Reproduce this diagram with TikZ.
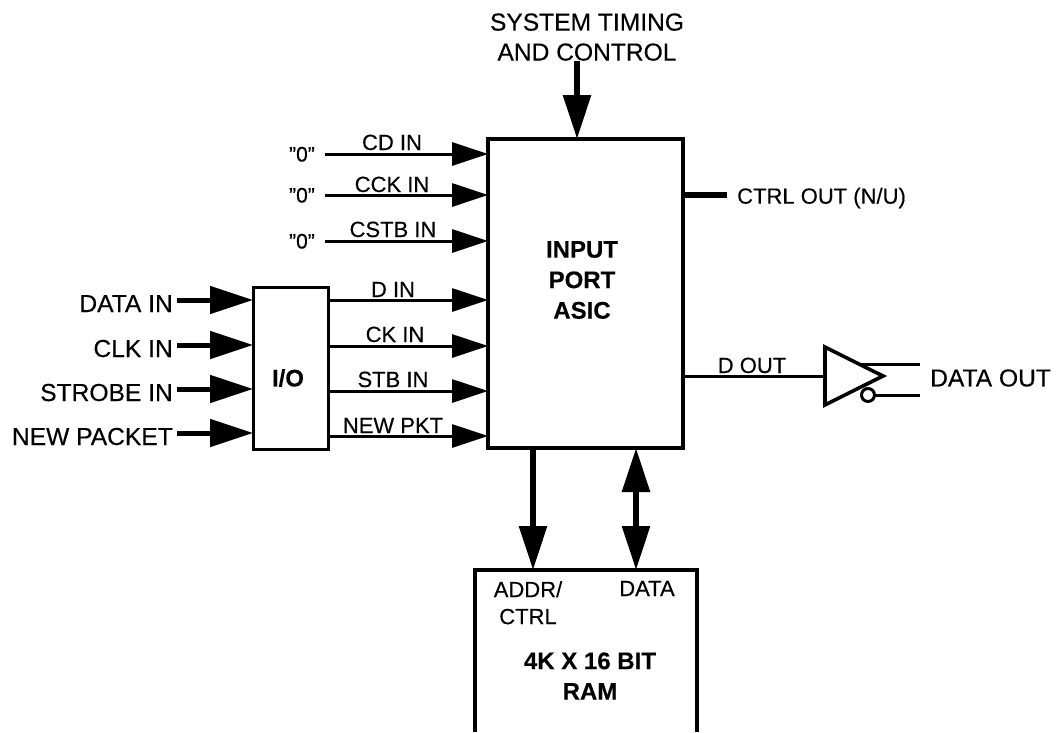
\documentclass[tikz,border=0pt]{standalone}
\usepackage{fontspec}
\setmainfont{Liberation Sans}[Ligatures=ResetAll, FakeBold=0.3]
\usepackage{tikz}
\usetikzlibrary{shapes.geometric, arrows.meta, positioning, calc}

\begin{document}
\begin{tikzpicture}[x=1pt, y=-1pt, line join=miter,
    big/.style={font=\fontsize{24.6}{30}\selectfont, inner sep=0pt, align=center},
    small/.style={font=\fontsize{22}{27}\selectfont, inner sep=0pt, align=center, anchor=base},
    title/.style={font=\fontsize{24}{30.5}\selectfont\bfseries, inner sep=0pt, align=center},
    pin/.style={big, text height=24pt, text depth=0pt, inner xsep=4pt, anchor=east},
    zero/.style={font=\fontsize{21}{24}\selectfont, text height=15pt, text depth=0pt, inner ysep=0pt, inner xsep=10pt, anchor=east},
    blockbox/.style={draw, line width=3.6pt, outer sep=0pt, inner sep=0pt},
    wire/.style={line width=3pt},
    wirearrow/.style={wire, -{Triangle[length=36pt, width=23pt]}},
    pinarrow/.style={line width=5pt, -{Triangle[length=43pt, width=27pt]}},
    busarrow/.style={line width=6pt, -{Triangle[length=44pt, width=27pt]}},
    bidirarrow/.style={line width=6pt, {Triangle[length=44pt, width=27pt]}-{Triangle[length=44pt, width=27pt]}}]

    \useasboundingbox (0,0) rectangle (1057,732);

    \node[blockbox, minimum width=195pt, minimum height=309pt] (asic) at (585.5,293.5) {};
    \node[title] (asiclabel) at (582,280) {INPUT\\PORT\\ASIC};
    \node[blockbox, line width=3pt, minimum width=75pt, minimum height=162pt] (io) at (290.5,368) {};
    \node[title] (iolabel) at (288,378) {I/O};
    \node[minimum width=222pt, minimum height=162pt, outer sep=0pt] (ram) at (586,651) {};
    \draw[line width=3.6pt] (ram.south west) -- (ram.north west) -- (ram.north east) -- (ram.south east);

    \node[big, anchor=south] (timing) at (587,61) {SYSTEM TIMING\\AND CONTROL};
    \coordinate (sysin) at (577,100);
    \draw[busarrow] (sysin |- timing.south) -- (sysin |- asic.north);

    \node[zero] (zeroa) at (325,154) {"0"};
    \node[zero] (zerob) at (325,195) {"0"};
    \node[zero] (zeroc) at (325,241) {"0"};
    \draw[wirearrow] (zeroa.east) -- (asic.west |- zeroa.east);
    \draw[wirearrow] (zerob.east) -- (asic.west |- zerob.east);
    \draw[wirearrow] (zeroc.east) -- (asic.west |- zeroc.east);
    \node[small] (cdin) at (392,150) {CD IN};
    \node[small] (cckin) at (392,192) {CCK IN};
    \node[small] (cstbin) at (393,237) {CSTB IN};

    \node[pin] (datain) at (177,300) {DATA IN};
    \node[pin] (clkin) at (177,345) {CLK IN};
    \node[pin] (strobein) at (177,389) {STROBE IN};
    \node[pin] (newpacket) at (177,433) {NEW PACKET};
    \draw[pinarrow] (datain.east) -- (io.west |- datain.east);
    \draw[pinarrow] (clkin.east) -- (io.west |- clkin.east);
    \draw[pinarrow] (strobein.east) -- (io.west |- strobein.east);
    \draw[pinarrow] (newpacket.east) -- (io.west |- newpacket.east);

    \coordinate (dline) at (400,300);
    \coordinate (ckline) at (400,346);
    \coordinate (stbline) at (400,391);
    \coordinate (pktline) at (400,436);
    \draw[wirearrow] (io.east |- dline) -- (asic.west |- dline);
    \draw[wirearrow] (io.east |- ckline) -- (asic.west |- ckline);
    \draw[wirearrow] (io.east |- stbline) -- (asic.west |- stbline);
    \draw[wirearrow] (io.east |- pktline) -- (asic.west |- pktline);
    \node[small] (din) at (393,297) {D IN};
    \node[small] (ckin) at (395,342) {CK IN};
    \node[small] (stbin) at (393,387) {STB IN};
    \node[small] (newpkt) at (393,433) {NEW PKT};

    \node[big, anchor=west, font=\fontsize{22}{27}\selectfont] (ctrlout) at (737,198) {CTRL OUT (N/U)};
    \coordinate (ctrlend) at (727,195);
    \draw[line width=6pt] (asic.east |- ctrlend) -- (ctrlend);

    \node[draw, isosceles triangle, isosceles triangle apex angle=53, minimum height=58pt,
        line width=3.6pt, inner sep=0pt, outer sep=0pt, anchor=apex] (buffer) at (883,376) {};
    \draw[wire] (asic.east |- buffer.apex) -- (buffer.apex -| buffer.west);
    \node[small] (dout) at (752,373) {D OUT};
    \node[big, anchor=west, inner xsep=10pt] (dataout) at (920,378) {DATA OUT};
    \coordinate (outtop) at (859,364);
    \node[draw, circle, wire, fill=white, minimum size=13pt, inner sep=0pt, outer sep=0pt] (bubble) at (868,395) {};
    \draw[wire] (outtop) -- (dataout.west |- outtop);
    \draw[wire] (bubble.east) -- (dataout.west |- bubble.east);

    \coordinate (addrbus) at (533,500);
    \coordinate (databus) at (636,500);
    \draw[busarrow] (addrbus |- asic.south) -- (addrbus |- ram.north);
    \draw[bidirarrow] (databus |- asic.south) -- (databus |- ram.north);

    \node[small, anchor=north] (addrctrl) at (528,581) {ADDR/\\CTRL};
    \node[small] (ramdata) at (647,596) {DATA};
    \node[title] (ramlabel) at (590,676) {4K X 16 BIT\\RAM};
\end{tikzpicture}
\end{document}
